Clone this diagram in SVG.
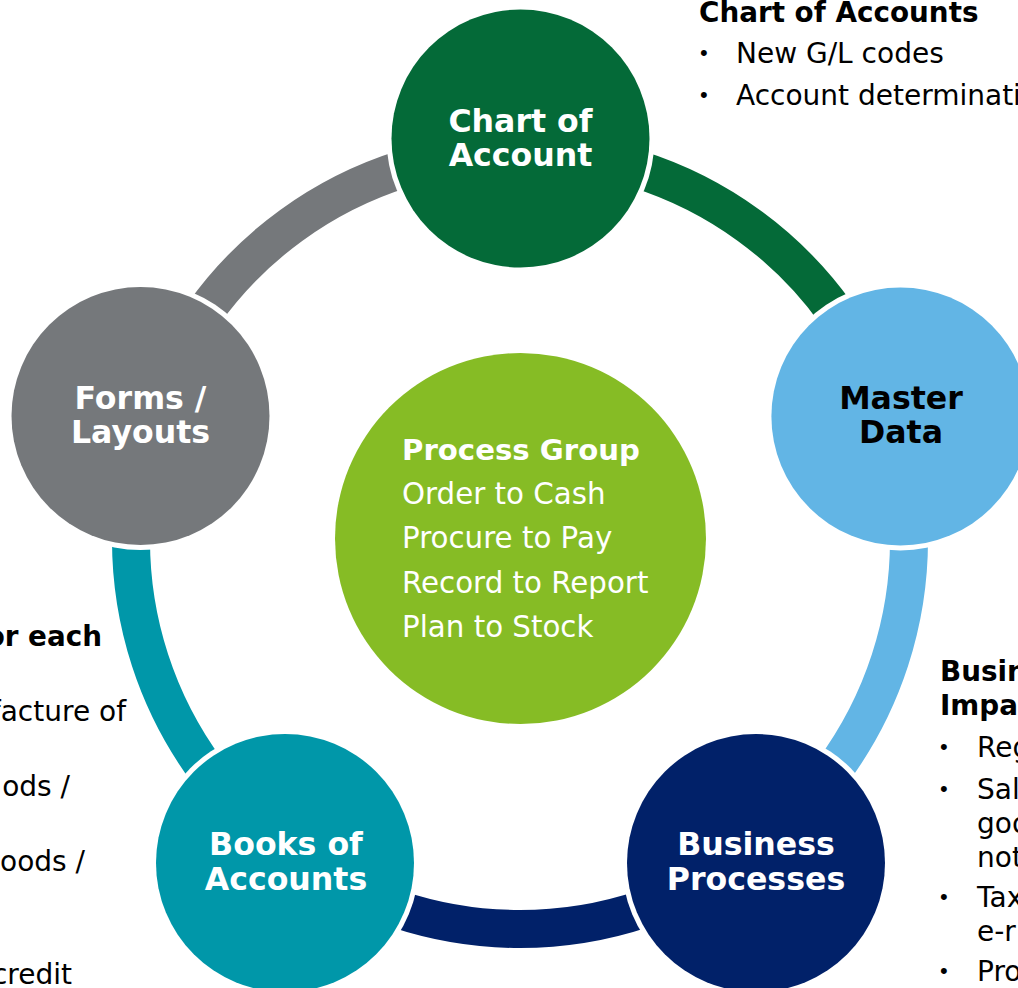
<svg xmlns="http://www.w3.org/2000/svg" width="1018" height="988" viewBox="0 0 1018 988">
  <style>
    .ring { fill: none; stroke-width: 38; stroke-linecap: butt; }
    .halo { fill: #ffffff; }
    .label { font-family: "DejaVu Sans", Verdana, sans-serif; font-weight: bold; font-size: 31.6px; text-anchor: middle; fill: #ffffff; }
    .dark { fill: #000000; }
    .hub-h { font-family: "DejaVu Sans", Verdana, sans-serif; font-weight: bold; font-size: 29.2px; fill: #ffffff; }
    .hub { font-family: "DejaVu Sans", Verdana, sans-serif; font-size: 29.3px; fill: #ffffff; }
    .side-h { font-family: "DejaVu Sans", Verdana, sans-serif; font-weight: bold; font-size: 27.8px; fill: #000000; }
    .side { font-family: "DejaVu Sans", Verdana, sans-serif; font-size: 28px; fill: #000000; }
    .bullet { font-family: "Liberation Sans", Arial, sans-serif; font-size: 22px; fill: #000000; }
    .end { text-anchor: end; }
  </style>

  <rect width="1018" height="988" fill="#ffffff"/>

  <!-- ring segments joining the five stages, clockwise -->
  <g id="connectors">
    <path class="ring" stroke="#046A38" d="M520,151 A389,389 0 0 1 889.96,419.79"/>
    <path class="ring" stroke="#62B5E5" d="M889.96,419.79 A389,389 0 0 1 748.65,854.71"/>
    <path class="ring" stroke="#012169" d="M748.65,854.71 A389,389 0 0 1 291.35,854.71"/>
    <path class="ring" stroke="#0097A9" d="M291.35,854.71 A389,389 0 0 1 150.04,419.79"/>
    <path class="ring" stroke="#75787B" d="M150.04,419.79 A389,389 0 0 1 520,151"/>
  </g>

  <g id="node-chart-of-account">
    <circle class="halo" cx="520.5" cy="138.5" r="134"/>
    <circle cx="520.5" cy="138.5" r="129" fill="#046A38"/>
    <text class="label" x="520.5" y="132">Chart of</text>
    <text class="label" x="520.5" y="166">Account</text>
  </g>

  <g id="node-master-data">
    <circle class="halo" cx="900.4" cy="416.4" r="134"/>
    <circle cx="900.4" cy="416.4" r="129" fill="#62B5E5"/>
    <text class="label dark" x="901" y="409">Master</text>
    <text class="label dark" x="901" y="443">Data</text>
  </g>

  <g id="node-business-processes">
    <circle class="halo" cx="756" cy="863" r="134"/>
    <circle cx="756" cy="863" r="129" fill="#012169"/>
    <text class="label" x="756" y="855">Business</text>
    <text class="label" x="756" y="890">Processes</text>
  </g>

  <g id="node-books-of-accounts">
    <circle class="halo" cx="285" cy="863" r="134"/>
    <circle cx="285" cy="863" r="129" fill="#0097A9"/>
    <text class="label" x="286" y="855">Books of</text>
    <text class="label" x="286" y="890">Accounts</text>
  </g>

  <g id="node-forms-layouts">
    <circle class="halo" cx="140.5" cy="416" r="134"/>
    <circle cx="140.5" cy="416" r="129" fill="#75787B"/>
    <text class="label" x="140.5" y="409">Forms /</text>
    <text class="label" x="140.5" y="443">Layouts</text>
  </g>

  <g id="node-process-group">
    <circle cx="520.5" cy="538.5" r="185.5" fill="#86BC25"/>
    <text class="hub-h" x="402" y="460">Process Group</text>
    <text class="hub" x="402" y="504">Order to Cash</text>
    <text class="hub" x="402" y="548">Procure to Pay</text>
    <text class="hub" x="402" y="593">Record to Report</text>
    <text class="hub" x="402" y="637">Plan to Stock</text>
  </g>

  <!-- side notes -->
  <g id="note-chart-of-accounts">
    <text class="side-h" x="699" y="22">Chart of Accounts</text>
    <text class="bullet" x="700" y="60">•</text>
    <text class="side" x="736" y="63">New G/L codes</text>
    <text class="bullet" x="700" y="102">•</text>
    <text class="side" x="736" y="105">Account determinati</text>
  </g>

  <g id="note-left">
    <text class="side-h end" x="102" y="646">or each</text>
    <text class="side end" x="126" y="721">facture of</text>
    <text class="side end" x="70" y="796">ods /</text>
    <text class="side end" x="85" y="871">oods /</text>
    <text class="side end" x="72" y="984">credit</text>
  </g>

  <g id="note-right">
    <text class="side-h" x="940" y="681">Busin</text>
    <text class="side-h" x="940" y="715">Impa</text>
    <text class="bullet" x="940" y="754">•</text>
    <text class="side" x="977" y="757">Reg</text>
    <text class="bullet" x="940" y="796">•</text>
    <text class="side" x="977" y="799">Sal</text>
    <text class="side" x="977" y="833">goo</text>
    <text class="side" x="977" y="867">not</text>
    <text class="bullet" x="940" y="904">•</text>
    <text class="side" x="977" y="907">Tax</text>
    <text class="side" x="977" y="941">e-r</text>
    <text class="bullet" x="940" y="978">•</text>
    <text class="side" x="977" y="981">Pro</text>
  </g>
</svg>
